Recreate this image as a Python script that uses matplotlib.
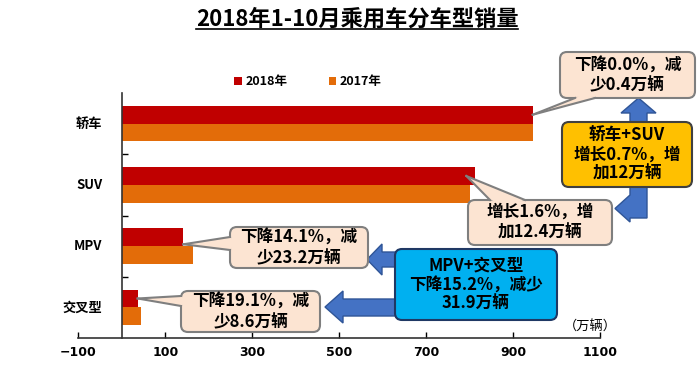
import matplotlib
matplotlib.use("Agg")
import matplotlib.pyplot as plt
from matplotlib.patches import FancyBboxPatch, Polygon
from matplotlib.lines import Line2D
from matplotlib.transforms import Affine2D, ScaledTranslation

plt.rcParams["font.family"] = ["Noto Sans CJK SC", "DejaVu Sans"]

# data (万辆)
categories = ["轿车", "SUV", "MPV", "交叉型"]
sales_2018 = [944.6, 812.0, 141.3, 36.4]
sales_2017 = [945.0, 799.6, 164.5, 45.0]
xticks = [-100, 100, 300, 500, 700, 900, 1100]
notes = ["下降0.0%，减\n少0.4万辆", "增长1.6%，增\n加12.4万辆",
         "下降14.1%，减\n少23.2万辆", "下降19.1%，减\n少8.6万辆"]
group_notes = ["轿车+SUV\n增长0.7%，增\n加12万辆", "MPV+交叉型\n下降15.2%，减少\n31.9万辆"]

W, H = 700, 378
fig = plt.figure(figsize=(7, 3.78), dpi=100)
# pixel coords with origin top-left
pix = Affine2D().scale(1 / W, -1 / H).translate(0, 1) + fig.transFigure

ax = fig.add_axes([78.3 / W, 1 - 338 / H, (600.3 - 78.3) / W, (338 - 93) / H])
ypos = list(range(len(categories)))[::-1]
bh = 0.29
ax.barh([y + bh / 2 for y in ypos], sales_2018, height=bh, color="#C00000", label="2018年")
ax.barh([y - bh / 2 for y in ypos], sales_2017, height=bh, color="#E36C09", label="2017年")
ax.set_xlim(-100, 1100)
ax.set_ylim(-0.5, len(categories) - 0.5)

ax.set_xticks(xticks)
ax.set_xticklabels([str(v).replace("-", "\u2212") for v in xticks],
                   fontfamily=["Liberation Sans Narrow", "DejaVu Sans"],
                   fontweight="bold", fontsize=9)
ax.tick_params(axis="x", direction="in", length=4, width=1, pad=6)
# boundary marks on the y axis, category names as text left of the axis
ax.set_yticks([y + 0.5 for y in ypos[1:]])
ax.set_yticklabels([])
ax.tick_params(axis="y", direction="in", length=4, width=1)
lab_trans = ax.transData + ScaledTranslation(-14 / 72, 0, fig.dpi_scale_trans)
for y, name in zip(ypos, categories):
    ax.text(0, y, name, transform=lab_trans, ha="right", va="center",
            fontsize=9.5, fontweight="bold")
ax.spines["left"].set_position(("data", 0))
ax.spines["top"].set_visible(False)
ax.spines["right"].set_visible(False)
for s in ("left", "bottom"):
    ax.spines[s].set_color("#333333")
    ax.spines[s].set_linewidth(1.2)

fig.legend(loc="center", bbox_to_anchor=(308 / W, 1 - 82 / H), ncol=2, frameon=False,
           handlelength=0.6, handleheight=0.6, handletextpad=0.3, columnspacing=3.3,
           prop={"weight": "bold", "size": 9})

title = fig.text(357 / W, 1 - 19 / H, "2018年1-10月乘用车分车型销量",
                 ha="center", va="center", fontsize=16, fontweight="bold")
fig.text(590 / W, 1 - 327 / H, "（万辆）", ha="center", va="center", fontsize=9.5)


def box(l, t, r, b, fc, ec, lw=1.3, z=5):
    p = FancyBboxPatch((l, b), r - l, t - b, boxstyle="round,pad=0,rounding_size=7",
                       transform=Affine2D().scale(1 / W, 1 / H) + fig.transFigure,
                       fc=fc, ec=ec, lw=lw, zorder=z)
    fig.add_artist(p)


def rect_px(l, t, r, b):
    return l, H - t, r, H - b


def to_pix(x, y):
    d = ax.transData.transform((x, y))
    return pix.inverted().transform(d)


def arrow_poly(pts, z=3):
    fig.add_artist(Polygon(pts, closed=True, transform=pix, fc="#4472C4",
                           ec="#2F5597", lw=1, zorder=z))


def callout(l, t, r, b, text, tip, base, fs=12):
    box(*rect_px(l, t, r, b), fc="#FCE4D2", ec="#7F7F7F", lw=1.5)
    (bx0, by0), (bx1, by1), (ix, iy) = base[0], base[1], base[2]
    fig.add_artist(Polygon([(bx0, by0), tip, (bx1, by1), (ix, iy)], closed=True,
                           transform=pix, fc="#FCE4D2", ec="none", zorder=6))
    for bx, by in (base[0], base[1]):
        fig.add_artist(Line2D([bx, tip[0]], [by, tip[1]], transform=pix,
                              color="#7F7F7F", lw=1.5, zorder=6))
    fig.text((l + r) / 2 / W, 1 - (t + b) / 2 / H, text, ha="center", va="center",
             fontsize=fs, fontweight="bold", linespacing=1.2, zorder=7)


# blue arrows
arrow_poly([(630, 124), (630, 113), (621, 113), (638.5, 98), (656, 113), (647, 113), (647, 124)])
arrow_poly([(630, 185), (647, 185), (647, 218), (630, 218), (630, 222), (615, 208.5), (630, 195)])
arrow_poly([(397, 252), (382, 252), (382, 244), (367, 259.5), (382, 275), (382, 267), (397, 267)])
arrow_poly([(397, 299), (343, 299), (343, 291), (325, 307), (343, 323), (343, 316), (397, 316)])

# callouts for each category
callout(560, 52, 695, 98, notes[0], to_pix(sales_2018[0], ypos[0] + bh / 2),
        [(575, 98), (595, 98), (585, 94)])
callout(468, 200, 612, 245, notes[1], to_pix(sales_2018[1] - 20, ypos[1] + bh / 2),
        [(490, 200), (525, 200), (507, 205)])
callout(230, 227, 368, 268, notes[2], to_pix(sales_2018[2], ypos[2] + 0.03),
        [(230, 237), (230, 250), (235, 243)])
callout(181, 291, 320, 332, notes[3], to_pix(sales_2018[3], ypos[3] + bh / 2),
        [(181, 296), (181, 306), (186, 301)])

# group summary boxes
box(*rect_px(562, 122, 692, 187), fc="#FFC000", ec="#404040", lw=1.5)
fig.text(627 / W, 1 - 154.5 / H, group_notes[0], ha="center", va="center",
         fontsize=12, fontweight="bold", linespacing=1.1, zorder=7)
box(*rect_px(395, 249, 557, 320), fc="#00B0F0", ec="#1F3864", lw=1.5)
fig.text(476 / W, 1 - 284.5 / H, group_notes[1], ha="center", va="center",
         fontsize=12, fontweight="bold", linespacing=1.1, zorder=7)

# underline the title
fig.canvas.draw()
bb = title.get_window_extent().transformed(fig.transFigure.inverted())
fig.add_artist(Line2D([bb.x0, bb.x1], [bb.y0 + 0.004, bb.y0 + 0.004],
                      transform=fig.transFigure, color="black", lw=1.2))

fig.savefig("out.png", dpi=100)
